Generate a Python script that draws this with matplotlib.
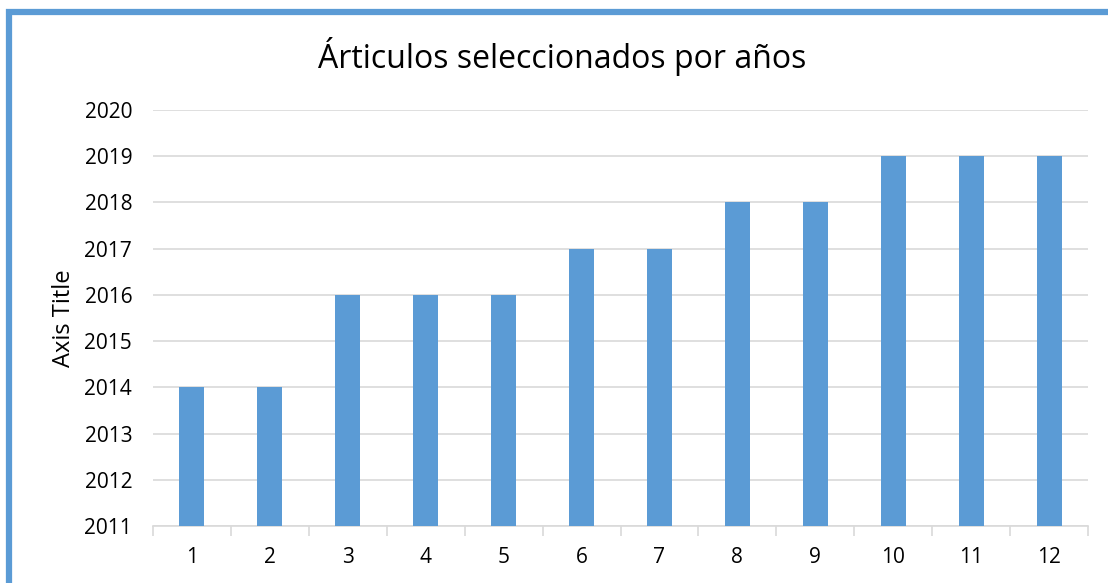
import matplotlib
matplotlib.use('Agg')
import matplotlib.pyplot as plt
from matplotlib.patches import Rectangle
import numpy as np

# datos del grafico
categorias = ['1', '2', '3', '4', '5', '6', '7', '8', '9', '10', '11', '12']
anios = [2014, 2014, 2016, 2016, 2016, 2017, 2017, 2018, 2018, 2019, 2019, 2019]
base = 2011
y_ticks = list(range(2011, 2021))

plt.rcParams['font.family'] = ['Open Sans', 'DejaVu Sans']

azul = '#5B9BD5'
gris = '#D9D9D9'

fig = plt.figure(figsize=(11.08, 5.83), dpi=100)
ax = fig.add_axes([153 / 1108, 1 - 526 / 583, 935 / 1108, 416 / 583])

x = np.arange(len(categorias))
alturas = [a - base for a in anios]
ax.bar(x, alturas, bottom=base, width=0.32, color=azul, zorder=3)

ax.set_xlim(-0.5, len(categorias) - 0.5)
ax.set_ylim(2011, 2020)
ax.set_yticks(y_ticks)
ax.set_yticklabels([str(t) for t in y_ticks], fontsize=15)
ax.grid(axis='y', color=gris, linewidth=1.2, zorder=0)

ax.set_xticks(x)
ax.set_xticklabels(categorias, fontsize=15)
ax.tick_params(axis='x', length=0, pad=15)
ax.set_xticks(np.arange(-0.5, len(categorias)), minor=True)
ax.tick_params(axis='x', which='minor', length=7, color=gris, width=1.2)
ax.tick_params(axis='y', length=0, pad=15)

for s in ['top', 'right', 'left']:
    ax.spines[s].set_visible(False)
ax.spines['bottom'].set_color(gris)
ax.spines['bottom'].set_linewidth(1.2)

ax.set_ylabel('Axis Title', fontsize=17, labelpad=6)

fig.text(562 / 1108, 1 - 57 / 583, 'Árticulos seleccionados por años', ha='center', va='center', fontsize=23)

# borde azul del grafico
borde = Rectangle((9 / 1108, -0.2), 1.3, 1 - 12 / 583 + 0.2, transform=fig.transFigure,
                  fill=False, edgecolor=azul, linewidth=4.5, clip_on=False)
fig.patches.append(borde)

fig.savefig('out.png', dpi=100)
